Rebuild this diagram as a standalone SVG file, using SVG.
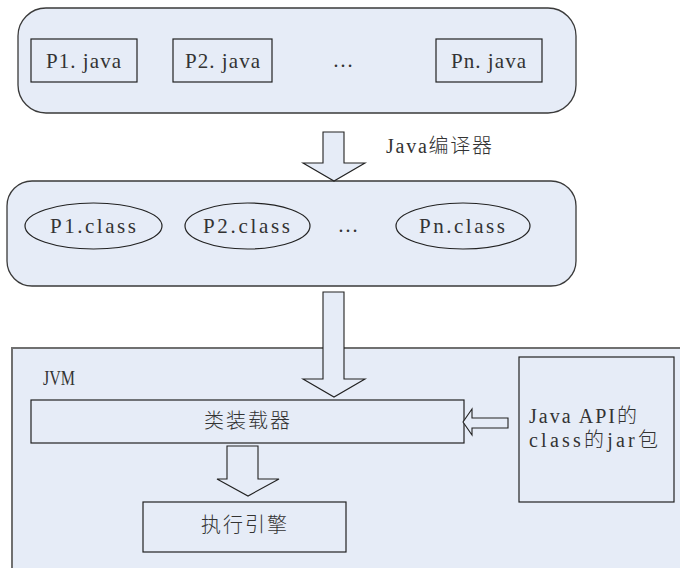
<svg xmlns="http://www.w3.org/2000/svg" width="680" height="568" viewBox="0 0 680 568">
<style>
.bg{fill:#e6ecf7;stroke:#3a3a3a;stroke-width:1.3}
.box{fill:#e6ecf7;stroke:#222;stroke-width:1.2}
.jvm{fill:#e6ecf7;stroke:#707070;stroke-width:2}
.arr{fill:#e6ecf7;stroke:#222;stroke-width:1.1;stroke-linejoin:miter}
text{font-family:"Liberation Serif","Noto Sans CJK SC",serif;font-size:21px;fill:#333}
.cjk{font-weight:300;font-size:20px}
.m{text-anchor:middle}
</style>
<rect width="680" height="568" fill="#ffffff"/>
<g id="source-files">
<rect class="bg" x="18" y="8" width="558" height="105" rx="28" ry="28"/>
<g id="p1-java"><rect class="box" x="31" y="39" width="106" height="43"/><text x="46" y="68" textLength="75" lengthAdjust="spacing">P1. java</text></g>
<g id="p2-java"><rect class="box" x="173" y="39" width="99" height="43"/><text x="185" y="68" textLength="75" lengthAdjust="spacing">P2. java</text></g>
<g id="dots-java"><text x="343" y="67" class="m">…</text></g>
<g id="pn-java"><rect class="box" x="436" y="39" width="106" height="43"/><text x="451" y="68" textLength="75" lengthAdjust="spacing">Pn. java</text></g>
</g>
<g id="class-files">
<rect class="bg" x="7" y="181" width="569" height="105" rx="25" ry="25"/>
<g id="p1-class"><ellipse class="box" cx="93.5" cy="226" rx="68.5" ry="23"/><text x="50" y="233" textLength="86" lengthAdjust="spacing">P1.class</text></g>
<g id="p2-class"><ellipse class="box" cx="247.5" cy="226" rx="62.5" ry="23"/><text x="203" y="233" textLength="87" lengthAdjust="spacing">P2.class</text></g>
<g id="dots-class"><text x="348" y="232" class="m">…</text></g>
<g id="pn-class"><ellipse class="box" cx="463" cy="226" rx="67" ry="23"/><text x="419" y="233" textLength="86" lengthAdjust="spacing">Pn.class</text></g>
</g>
<g id="jvm">
<rect class="jvm" x="12" y="348" width="700" height="240"/>
<text x="43" y="385" textLength="32" lengthAdjust="spacingAndGlyphs">JVM</text>
<g id="class-loader"><rect class="box" x="31" y="400" width="433" height="43"/><text class="cjk" x="204" y="428" textLength="86" lengthAdjust="spacing">类装载器</text></g>
<g id="exec-engine"><rect class="box" x="143" y="502" width="203" height="50"/><text class="cjk" x="201" y="532" textLength="86" lengthAdjust="spacing">执行引擎</text></g>
<g id="java-api"><rect class="box" x="519" y="357" width="155" height="145"/><text class="cjk" x="529" y="423" textLength="108" lengthAdjust="spacing">Java API的</text><text class="cjk" x="529" y="447" textLength="129" lengthAdjust="spacing">class的jar包</text></g>
</g>
<g id="connectors">
<path class="arr" d="M323 132 H344 V163 H365 L334 181 L303 163 H323 Z"/>
<text class="cjk" x="386" y="153" textLength="106" lengthAdjust="spacing">Java编译器</text>
<path class="arr" d="M323 292 H344 V379 H365 L334 397 L303 379 H323 Z"/>
<path class="arr" d="M227 446 H258 V479 H279 L248 496 L217 479 H227 Z"/>
<path class="arr" d="M508 418 V428 H472 V435 L463 422 L472 409 V418 Z"/>
</g>
</svg>
